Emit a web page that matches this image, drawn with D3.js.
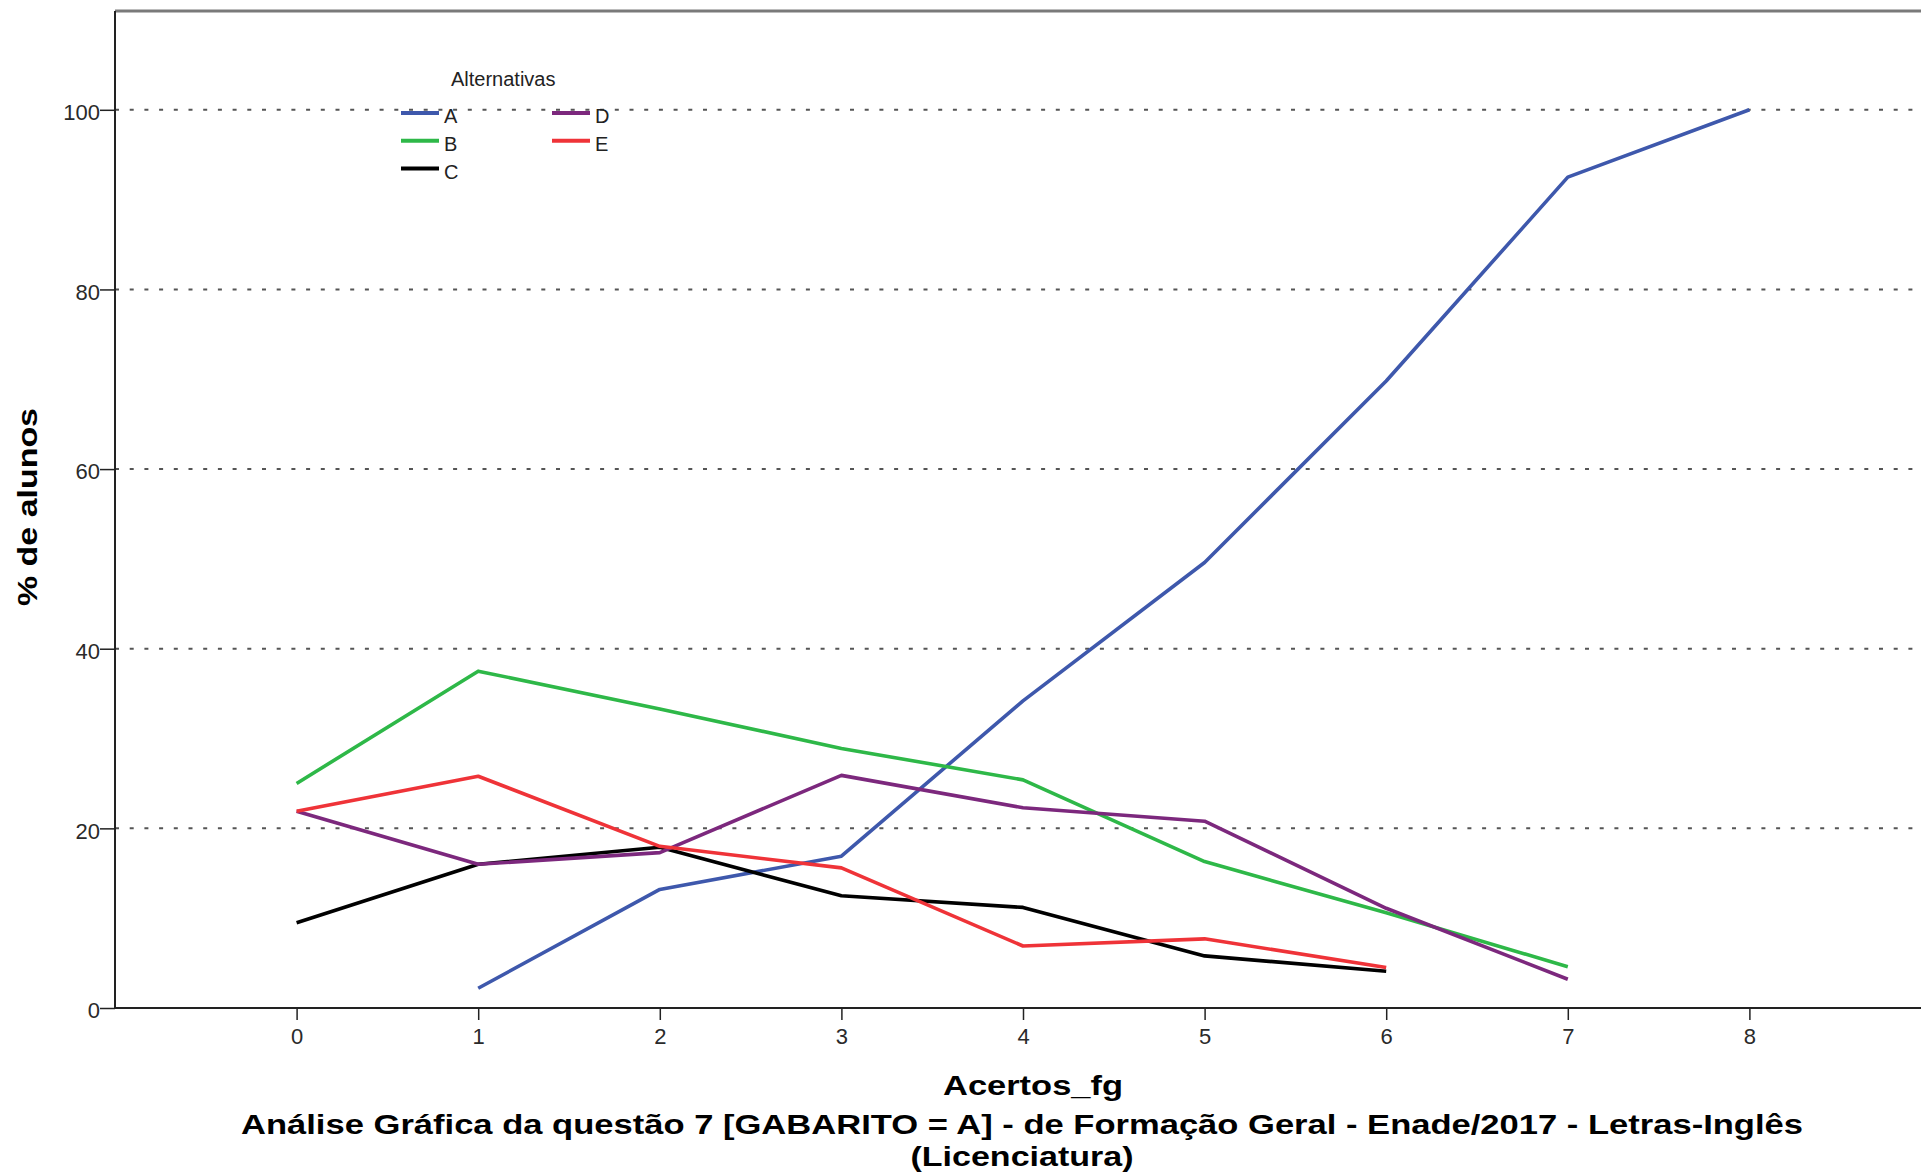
<!DOCTYPE html>
<html>
<head>
<meta charset="utf-8">
<script src="https://cdn.jsdelivr.net/npm/d3@7"></script>
<style>
  html, body { margin: 0; padding: 0; background: #fff; }
  svg { display: block; font-family: "Liberation Sans", Arial, sans-serif; }
</style>
</head>
<body>
<svg id="chart" width="1921" height="1174"></svg>
<script>
// Acertos_fg (number of correct answers) on the x axis
const acertos = [0, 1, 2, 3, 4, 5, 6, 7, 8];
const xTicks = [0, 1, 2, 3, 4, 5, 6, 7, 8];
const yTicks = [0, 20, 40, 60, 80, 100];

// % de alunos choosing each alternative (null = no students at that score)
const altA = [null, 2.2, 13.2, 16.9, 34.2, 49.6, 69.8, 92.5, 100];
const altB = [25.0, 37.5, 33.3, 28.9, 25.4, 16.3, 10.6, 4.6, null];
const altC = [9.5, 16.0, 17.9, 12.5, 11.2, 5.8, 4.1, null, null];
const altD = [21.9, 16.0, 17.3, 25.9, 22.3, 20.8, 11.1, 3.2, null];
const altE = [21.9, 25.8, 18.0, 15.6, 6.9, 7.7, 4.5, null, null];

const seriesNames = ["A", "B", "C", "D", "E"];
const seriesValues = [altA, altB, altC, altD, altE];
const seriesColors = ["#3E58AC", "#2EB848", "#000000", "#7C287D", "#EF3338"];

const legendTitle = "Alternativas";
const xTitle = "Acertos_fg";
const yTitle = "% de alunos";
const titleLines = [
  "Análise Gráfica da questão 7 [GABARITO = A] - de Formação Geral - Enade/2017 - Letras-Inglês",
  "(Licenciatura)"
];

const svg = d3.select("#chart");
const plot = { left: 115, top: 11, right: 1921, bottom: 1008 };

const x = d3.scaleLinear().domain([-1, 9]).range([plot.left, plot.left + 1816]);
const y = d3.scaleLinear().domain([0, 111]).range([plot.bottom, plot.top]);

// dotted horizontal gridlines
svg.append("g")
  .selectAll("line")
  .data(yTicks)
  .join("line")
  .attr("x1", plot.left).attr("x2", plot.right)
  .attr("y1", d => y(d)).attr("y2", d => y(d))
  .attr("stroke", "#555")
  .attr("stroke-width", 2)
  .attr("stroke-dasharray", "4,10.7");

// frame: top border
svg.append("line")
  .attr("x1", plot.left).attr("x2", plot.right)
  .attr("y1", plot.top).attr("y2", plot.top)
  .attr("stroke", "#7a7a7a").attr("stroke-width", 3);

// y axis
const yAxis = svg.append("g")
  .attr("transform", `translate(${plot.left},0)`)
  .call(d3.axisLeft(y).tickValues(yTicks).tickSize(15).tickPadding(0).tickSizeOuter(0));
yAxis.select(".domain").remove();
yAxis.selectAll(".tick line").attr("stroke", "#222").attr("stroke-width", 1.5);
yAxis.selectAll(".tick text")
  .attr("font-size", 22).attr("fill", "#2a2a2a")
  .attr("font-family", "'Liberation Sans', Arial, sans-serif")
  .attr("dy", "0.45em");

// x axis
const xAxis = svg.append("g")
  .attr("transform", `translate(0,${plot.bottom})`)
  .call(d3.axisBottom(x).tickValues(xTicks).tickSize(12).tickPadding(8).tickSizeOuter(0));
xAxis.select(".domain").remove();
xAxis.selectAll(".tick line").attr("stroke", "#222").attr("stroke-width", 1.5);
xAxis.selectAll(".tick text")
  .attr("font-size", 22).attr("fill", "#2a2a2a")
  .attr("font-family", "'Liberation Sans', Arial, sans-serif");

svg.append("line")
  .attr("x1", plot.left).attr("x2", plot.left)
  .attr("y1", plot.top).attr("y2", plot.bottom)
  .attr("stroke", "#222").attr("stroke-width", 2);
svg.append("line")
  .attr("x1", plot.left).attr("x2", plot.right)
  .attr("y1", plot.bottom).attr("y2", plot.bottom)
  .attr("stroke", "#222").attr("stroke-width", 2);

// series lines
const line = d3.line()
  .defined(d => d.v !== null)
  .x(d => x(d.k))
  .y(d => y(d.v));

svg.append("g")
  .selectAll("path")
  .data(seriesValues.map((vals, i) => ({
    name: seriesNames[i],
    color: seriesColors[i],
    points: acertos.map((k, j) => ({ k, v: vals[j] }))
  })))
  .join("path")
  .attr("fill", "none")
  .attr("stroke", d => d.color)
  .attr("stroke-width", 3.6)
  .attr("stroke-linejoin", "round")
  .attr("d", d => line(d.points));

// legend
const legend = svg.append("g").attr("font-size", 20).attr("fill", "#222");
legend.append("text")
  .attr("x", 451).attr("y", 86)
  .text(legendTitle);

const legendItems = legend.selectAll("g.item")
  .data(seriesNames.map((n, i) => ({ n, c: seriesColors[i], col: i < 3 ? 0 : 1, row: i < 3 ? i : i - 3 })))
  .join("g")
  .attr("class", "item")
  .attr("transform", d => `translate(${401 + d.col * 151},${113 + d.row * 27.8})`);
legendItems.append("line")
  .attr("x1", 0).attr("x2", 38)
  .attr("y1", 0).attr("y2", 0)
  .attr("stroke", d => d.c).attr("stroke-width", 4);
legendItems.append("text")
  .attr("x", 43).attr("y", 10)
  .text(d => d.n);

// axis titles
svg.append("text")
  .attr("x", 1033).attr("y", 1095)
  .attr("text-anchor", "middle")
  .attr("font-weight", "bold").attr("font-size", 28)
  .attr("textLength", 180).attr("lengthAdjust", "spacingAndGlyphs")
  .text(xTitle);

svg.append("text")
  .attr("transform", "translate(37,507) rotate(-90)")
  .attr("text-anchor", "middle")
  .attr("font-weight", "bold").attr("font-size", 28)
  .attr("textLength", 198).attr("lengthAdjust", "spacingAndGlyphs")
  .text(yTitle);

// chart title
svg.append("text")
  .attr("x", 1022).attr("y", 1134)
  .attr("text-anchor", "middle")
  .attr("font-weight", "bold").attr("font-size", 27)
  .attr("textLength", 1562).attr("lengthAdjust", "spacingAndGlyphs")
  .text(titleLines[0]);
svg.append("text")
  .attr("x", 1022).attr("y", 1166)
  .attr("text-anchor", "middle")
  .attr("font-weight", "bold").attr("font-size", 27)
  .attr("textLength", 223).attr("lengthAdjust", "spacingAndGlyphs")
  .text(titleLines[1]);
</script>
</body>
</html>
